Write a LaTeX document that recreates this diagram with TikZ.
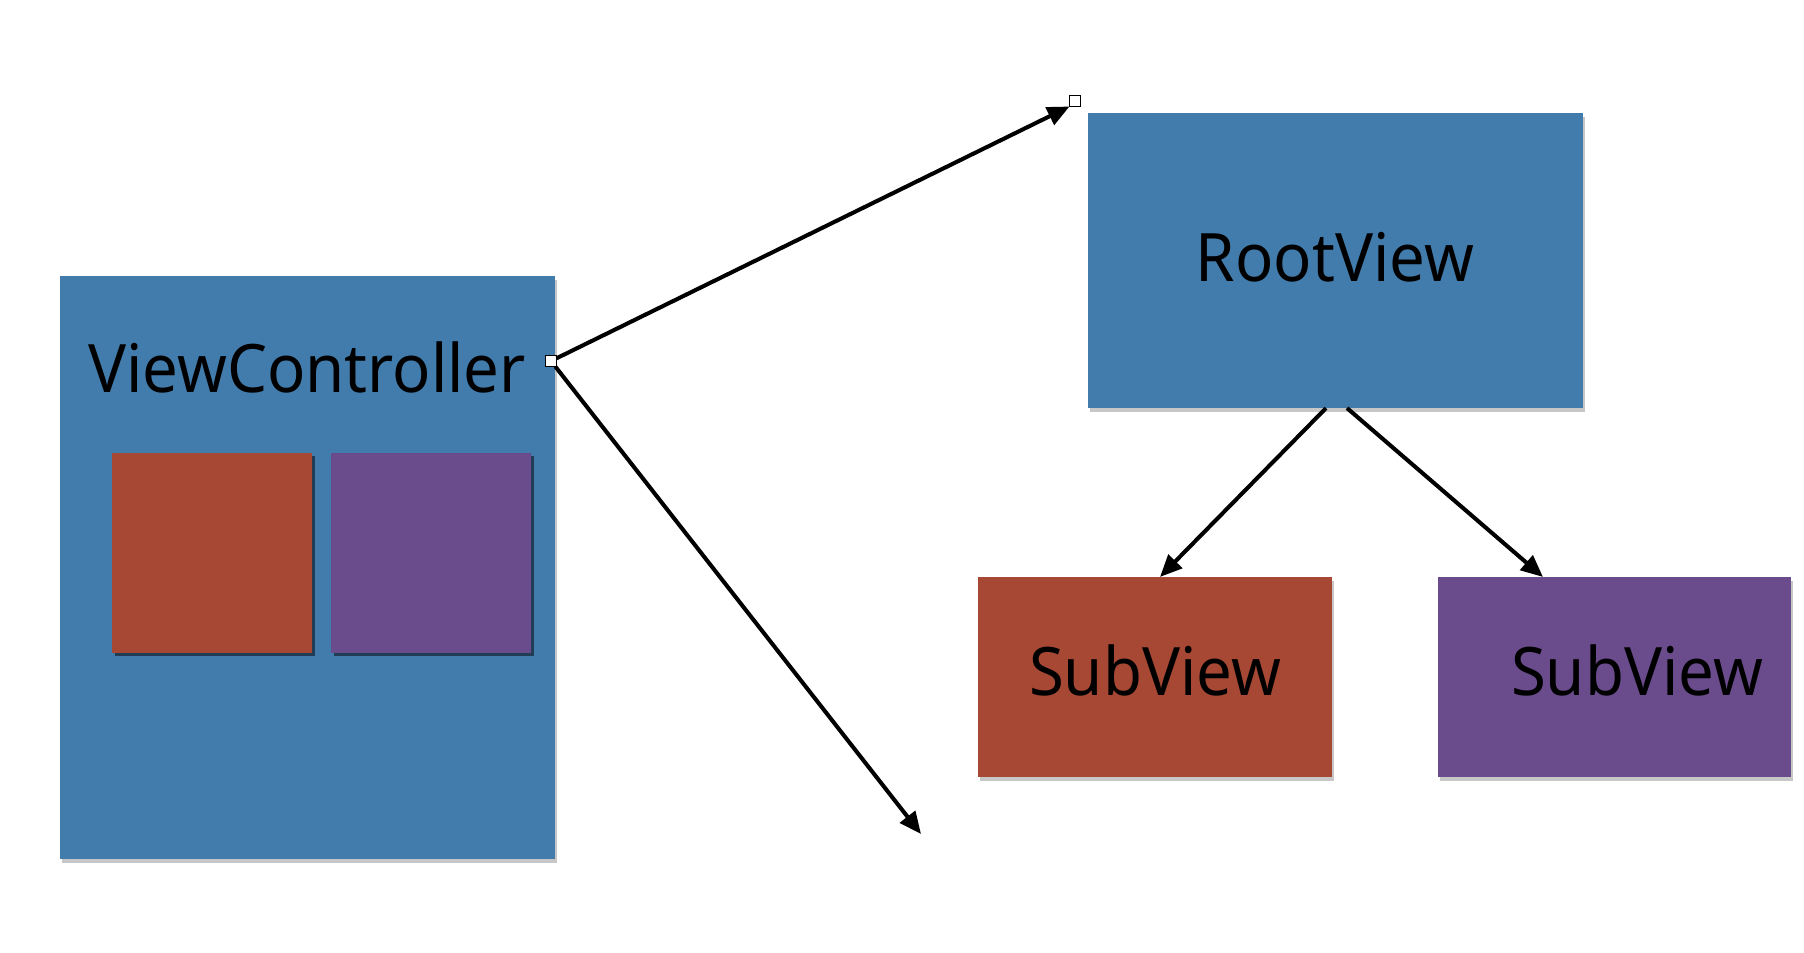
\documentclass[tikz,border=0pt]{standalone}
\usepackage{fontspec}
\setmainfont{Noto Sans}
\usetikzlibrary{arrows.meta,shadows}
\definecolor{vblue}{HTML}{427CAC}
\definecolor{vred}{HTML}{A64834}
\definecolor{vpurple}{HTML}{6A4B8C}
\tikzset{
  panel/.style={rectangle, inner sep=0pt, outer sep=0pt, draw=none,
    drop shadow={shadow xshift=0.02cm, shadow yshift=-0.04cm, opacity=0.22, fill=black}},
  inner/.style={rectangle, inner sep=0pt, outer sep=0pt, draw=none,
    drop shadow={shadow xshift=0.03cm, shadow yshift=-0.03cm, opacity=0.5, fill=black}},
  lbl/.style={inner sep=0pt, font=\fontsize{19pt}{22pt}\selectfont, text=black},
  handle/.style={rectangle, draw=black, fill=white, line width=0.5pt,
    minimum size=0.11cm, inner sep=0pt, outer sep=0pt},
  conn/.style={line width=1.15pt, -{Triangle[length=0.22cm,width=0.19cm]}},
}
\newcommand{\sq}[1]{\scalebox{0.95}[1]{#1}}
\begin{document}
\begin{tikzpicture}[x=0.01cm,y=-0.01cm]
\useasboundingbox[fill=white] (0,0) rectangle (1804,952);
% boxes
\node[panel, fill=vblue, minimum width=4.95cm, minimum height=5.83cm] (vc) at (307.5,567.5) {};
\node[inner, fill=vred, minimum width=2.00cm, minimum height=2.00cm] (vcred) at (212,553) {};
\node[inner, fill=vpurple, minimum width=2.00cm, minimum height=2.00cm] (vcpur) at (431,553) {};
\node[panel, fill=vblue, minimum width=4.95cm, minimum height=2.95cm] (root) at (1335.5,260.5) {};
\node[panel, fill=vred, minimum width=3.53cm, minimum height=2.00cm] (sub1) at (1155,677) {};
\node[panel, fill=vpurple, minimum width=3.53cm, minimum height=2.00cm] (sub2) at (1614.5,677) {};
% labels
\node[lbl, anchor=base] (vctext) at (307,393) {\sq{ViewController}};
\node[lbl, anchor=base] (roottext) at (1335,282) {\sq{RootView}};
\node[lbl, anchor=base] (sub1text) at (1155,695) {\sq{SubView}};
\node[lbl, anchor=base] (sub2text) at (1637,695) {\sq{SubView}};
% handles and connectors
\coordinate (free) at (921,834);
\node[handle] (h1) at (551,361) {};
\node[handle] (h2) at (1075,101) {};
\draw[conn] (h1) -- (h2.south west);
\draw[conn] (h1) -- (free);
\draw[conn] ([xshift=-0.095cm]root.south) -- ([xshift=0.05cm]sub1.north);
\draw[conn] ([xshift=0.115cm]root.south) -- ([xshift=-0.715cm]sub2.north);
\end{tikzpicture}
\end{document}
